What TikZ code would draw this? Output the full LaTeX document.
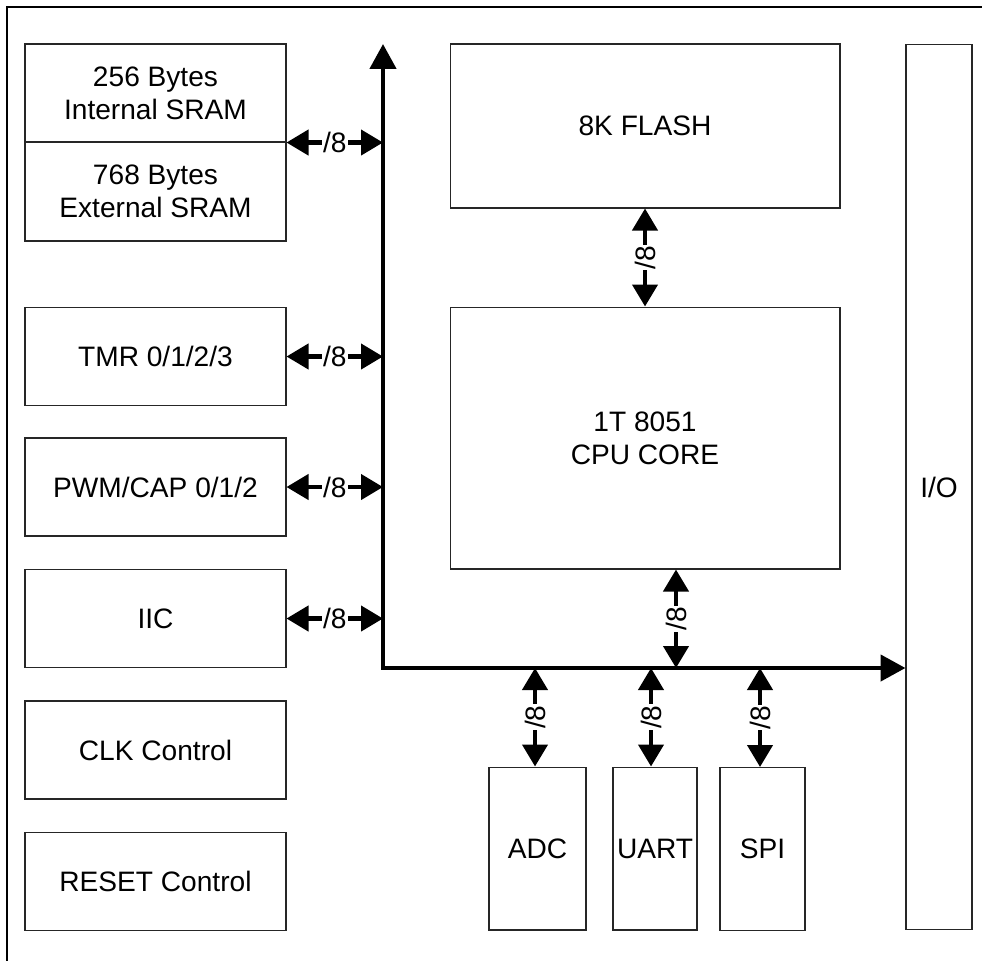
\documentclass[tikz,border=0pt]{standalone}
\usepackage{fontspec}
\setmainfont{Liberation Sans}
\usetikzlibrary{arrows.meta, positioning}

\begin{document}
\begin{tikzpicture}[
    x=0.02cm, y=-0.02cm,
    every node/.style={font=\fontsize{16}{18.6}\selectfont},
    block/.style={
        draw=black!85,
        line width=0.6pt,
        fill=white,
        align=center,
        inner sep=0pt
    },
    leftbox/.style={block, minimum width=5.22cm, minimum height=1.96cm},
    tallbox/.style={block, minimum height=3.26cm},
    link/.style={{Triangle[length=0.44cm, width=0.5cm]}-{Triangle[length=0.44cm, width=0.5cm]}, line width=2.4pt},
    bus/.style={{Triangle[length=0.5cm, width=0.52cm]}-{Triangle[length=0.5cm, width=0.52cm]}, line width=2.6pt, line join=miter},
    width8/.style={fill=white, inner sep=0.6pt, font=\fontsize{16}{18}\selectfont}
]

\useasboundingbox (0,0) rectangle (982,960);
\draw[line width=1.3pt] (7,965) -- (7,7) -- (987,7);

% left column
\node[block, minimum width=5.22cm, minimum height=1.96cm] (isram) at (155.5,93) {256 Bytes\\Internal SRAM};
\node[block, minimum width=5.22cm, minimum height=1.98cm] (xsram) at (155.5,191.5) {768 Bytes\\External SRAM};
\node[leftbox] (tmr) at (155.5,356.5) {TMR 0/1/2/3};
\node[leftbox] (pwm) at (155.5,487) {PWM/CAP 0/1/2};
\node[leftbox] (iic) at (155.5,618.5) {IIC};
\node[leftbox] (clk) at (155.5,750) {CLK Control};
\node[leftbox] (rst) at (155.5,881.5) {RESET Control};

% core and memory
\node[block, minimum width=7.8cm, minimum height=3.28cm] (flash) at (645,126) {8K FLASH};
\node[block, minimum width=7.8cm, minimum height=5.24cm] (cpu) at (645,438) {1T 8051\\CPU CORE};
\node[block, minimum width=1.32cm, minimum height=17.72cm] (io) at (939,487) {I/O};

% peripherals
\node[tallbox, minimum width=1.94cm] (adc) at (537.5,848.5) {ADC};
\node[tallbox, minimum width=1.68cm] (uart) at (655,848.5) {UART};
\node[tallbox, minimum width=1.7cm] (spi) at (762.5,849) {SPI};

% bus
\coordinate (busTop) at (383,44);
\coordinate (busCorner) at (383,668);
\draw[bus] (busTop) -- (busCorner) -- (io.west |- busCorner);

\draw[link] (isram.south east) -- (isram.south east -| busCorner) node[midway, width8] {/8};
\draw[link] (tmr.east) -- (tmr.east -| busCorner) node[midway, width8] {/8};
\draw[link] (pwm.east) -- (pwm.east -| busCorner) node[midway, width8] {/8};
\draw[link] (iic.east) -- (iic.east -| busCorner) node[midway, width8] {/8};

\draw[link] (flash.south) -- (cpu.north) node[midway, width8, rotate=90] {/8};
\draw[link] ([xshift=0.62cm]cpu.south) -- ([xshift=0.62cm]cpu.south |- busCorner) node[midway, width8, rotate=90] {/8};

\draw[link] ([xshift=-0.05cm]adc.north |- busCorner) -- ([xshift=-0.05cm]adc.north) node[midway, width8, rotate=90] {/8};
\draw[link] ([xshift=-0.08cm]uart.north |- busCorner) -- ([xshift=-0.08cm]uart.north) node[midway, width8, rotate=90] {/8};
\draw[link] ([xshift=-0.05cm]spi.north |- busCorner) -- ([xshift=-0.05cm]spi.north) node[midway, width8, rotate=90] {/8};

\end{tikzpicture}
\end{document}
